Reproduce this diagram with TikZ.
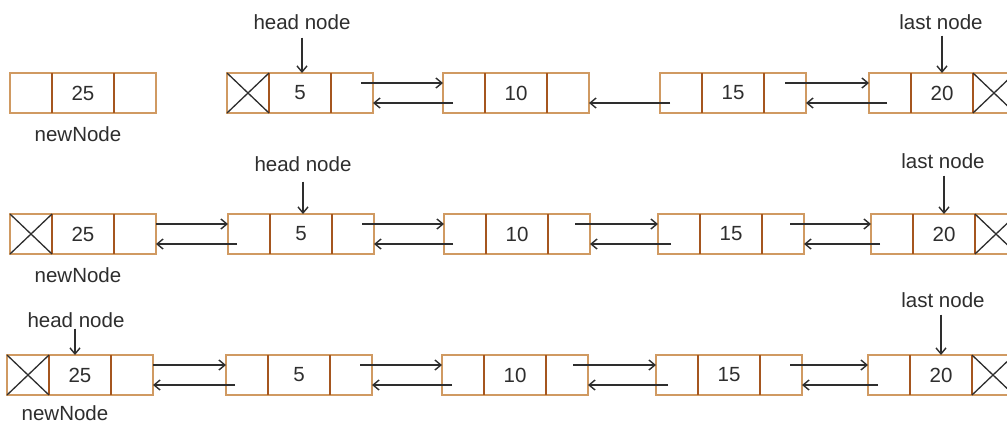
\documentclass[tikz,border=0pt]{standalone}
\usepackage{fontspec}
\setmainfont{Liberation Sans}
\usetikzlibrary{arrows.meta}

\definecolor{boxtan}{HTML}{D09A62}
\definecolor{boxrust}{HTML}{A5561F}
\definecolor{ink}{HTML}{2E2E2E}

\tikzset{
  cellbox/.style={draw=boxtan, line width=1.6pt, fill=white, minimum height=40pt,
    inner sep=0pt, outer sep=0pt, anchor=north west,
    font=\fontsize{20.5}{24}\selectfont, text=ink},
  cellrule/.style={draw=boxrust, line width=1.8pt},
  nullmark/.style={draw=ink, line width=1.3pt},
  linkarrow/.style={draw=ink, line width=1.4pt, -{Straight Barb[length=6pt,width=10pt]}},
  tagtext/.style={font=\fontsize{20.5}{24}\selectfont, text=ink, inner sep=0pt},
}

% one doubly linked list node: prev cell (#1p), data cell (#1), next cell (#1n)
\newcommand\dllnode[4]{%
  \node[cellbox, minimum width=42pt] (#1p) at (#2,#3) {};
  \node[cellbox, minimum width=62pt] (#1) at (#1p.north east) {#4};
  \node[cellbox, minimum width=42pt] (#1n) at (#1.north east) {};
  \draw[cellrule] (#1.north west) -- (#1.south west) (#1.north east) -- (#1.south east);
}
% NULL pointer cell
\newcommand\nullcross[1]{%
  \draw[nullmark] (#1.north west) -- (#1.south east) (#1.north east) -- (#1.south west);
}
% next link: from inside the next cell of #1 to the prev cell of #2
\newcommand\fwdlink[3]{%
  \draw[linkarrow] ([xshift=-#3pt,yshift=-10pt]#1n.north east) -- ([yshift=-10pt]#2p.north west);
}
% prev link: from inside the prev cell of #1 back to the next cell of #2
\newcommand\bwdlink[3]{%
  \draw[linkarrow] ([xshift=#3pt,yshift=10pt]#1p.south west) -- ([yshift=10pt]#2n.south east);
}
% vertical pointer from a caption (#1) down to a data cell (#2), #3 = gap below caption, #4 = x offset
\newcommand\tagpointer[4]{%
  \draw[linkarrow] ([xshift=#4pt,yshift=-#3pt]#2.north |- #1.south) -- ([xshift=#4pt]#2.north);
}

\begin{document}
\begin{tikzpicture}[x=1pt,y=-1pt]
\useasboundingbox (0,0) rectangle (1007,424);
\clip (0,0) rectangle (1007,424);
\fill[white] (0,0) rectangle (1007,424);

% ---- list before insertion ----
\dllnode{r1a}{10}{73}{25}
\dllnode{r1b}{227}{73}{5}
\dllnode{r1c}{443}{73}{10}
\dllnode{r1d}{660}{73}{15}
\dllnode{r1e}{869}{73}{20}
\nullcross{r1bp}
\nullcross{r1en}
\fwdlink{r1b}{r1c}{12}
\bwdlink{r1c}{r1b}{10}
\bwdlink{r1d}{r1c}{10}
\fwdlink{r1d}{r1e}{21}
\bwdlink{r1e}{r1d}{18}
\node[tagtext] (r1new) at (78,134) {newNode};
\node[tagtext] (r1head) at (302,22) {head node};
\node[tagtext] (r1last) at (941,22) {last node};
\tagpointer{r1head}{r1b}{8}{2}
\tagpointer{r1last}{r1e}{6}{0}

% ---- newNode linked in front ----
\dllnode{r2a}{10}{214}{25}
\dllnode{r2b}{228}{214}{5}
\dllnode{r2c}{444}{214}{10}
\dllnode{r2d}{658}{214}{15}
\dllnode{r2e}{871}{214}{20}
\nullcross{r2ap}
\nullcross{r2en}
\fwdlink{r2a}{r2b}{0}
\bwdlink{r2b}{r2a}{9}
\fwdlink{r2b}{r2c}{12}
\bwdlink{r2c}{r2b}{9}
\fwdlink{r2c}{r2d}{15}
\bwdlink{r2d}{r2c}{13}
\fwdlink{r2d}{r2e}{14}
\bwdlink{r2e}{r2d}{9}
\node[tagtext] (r2new) at (78,275) {newNode};
\node[tagtext] (r2head) at (303,164) {head node};
\node[tagtext] (r2last) at (943,161) {last node};
\tagpointer{r2head}{r2b}{10}{2}
\tagpointer{r2last}{r2e}{7}{0}

% ---- head moved to newNode ----
\dllnode{r3a}{7}{355}{25}
\dllnode{r3b}{226}{355}{5}
\dllnode{r3c}{442}{355}{10}
\dllnode{r3d}{656}{355}{15}
\dllnode{r3e}{868}{355}{20}
\nullcross{r3ap}
\nullcross{r3en}
\fwdlink{r3a}{r3b}{0}
\bwdlink{r3b}{r3a}{9}
\fwdlink{r3b}{r3c}{12}
\bwdlink{r3c}{r3b}{10}
\fwdlink{r3c}{r3d}{15}
\bwdlink{r3d}{r3c}{12}
\fwdlink{r3d}{r3e}{12}
\bwdlink{r3e}{r3d}{10}
\node[tagtext] (r3new) at (65,413) {newNode};
\node[tagtext] (r3head) at (76,320) {head node};
\node[tagtext] (r3last) at (943,300) {last node};
\tagpointer{r3head}{r3a}{1}{-5}
\tagpointer{r3last}{r3e}{7}{0}
\end{tikzpicture}
\end{document}
